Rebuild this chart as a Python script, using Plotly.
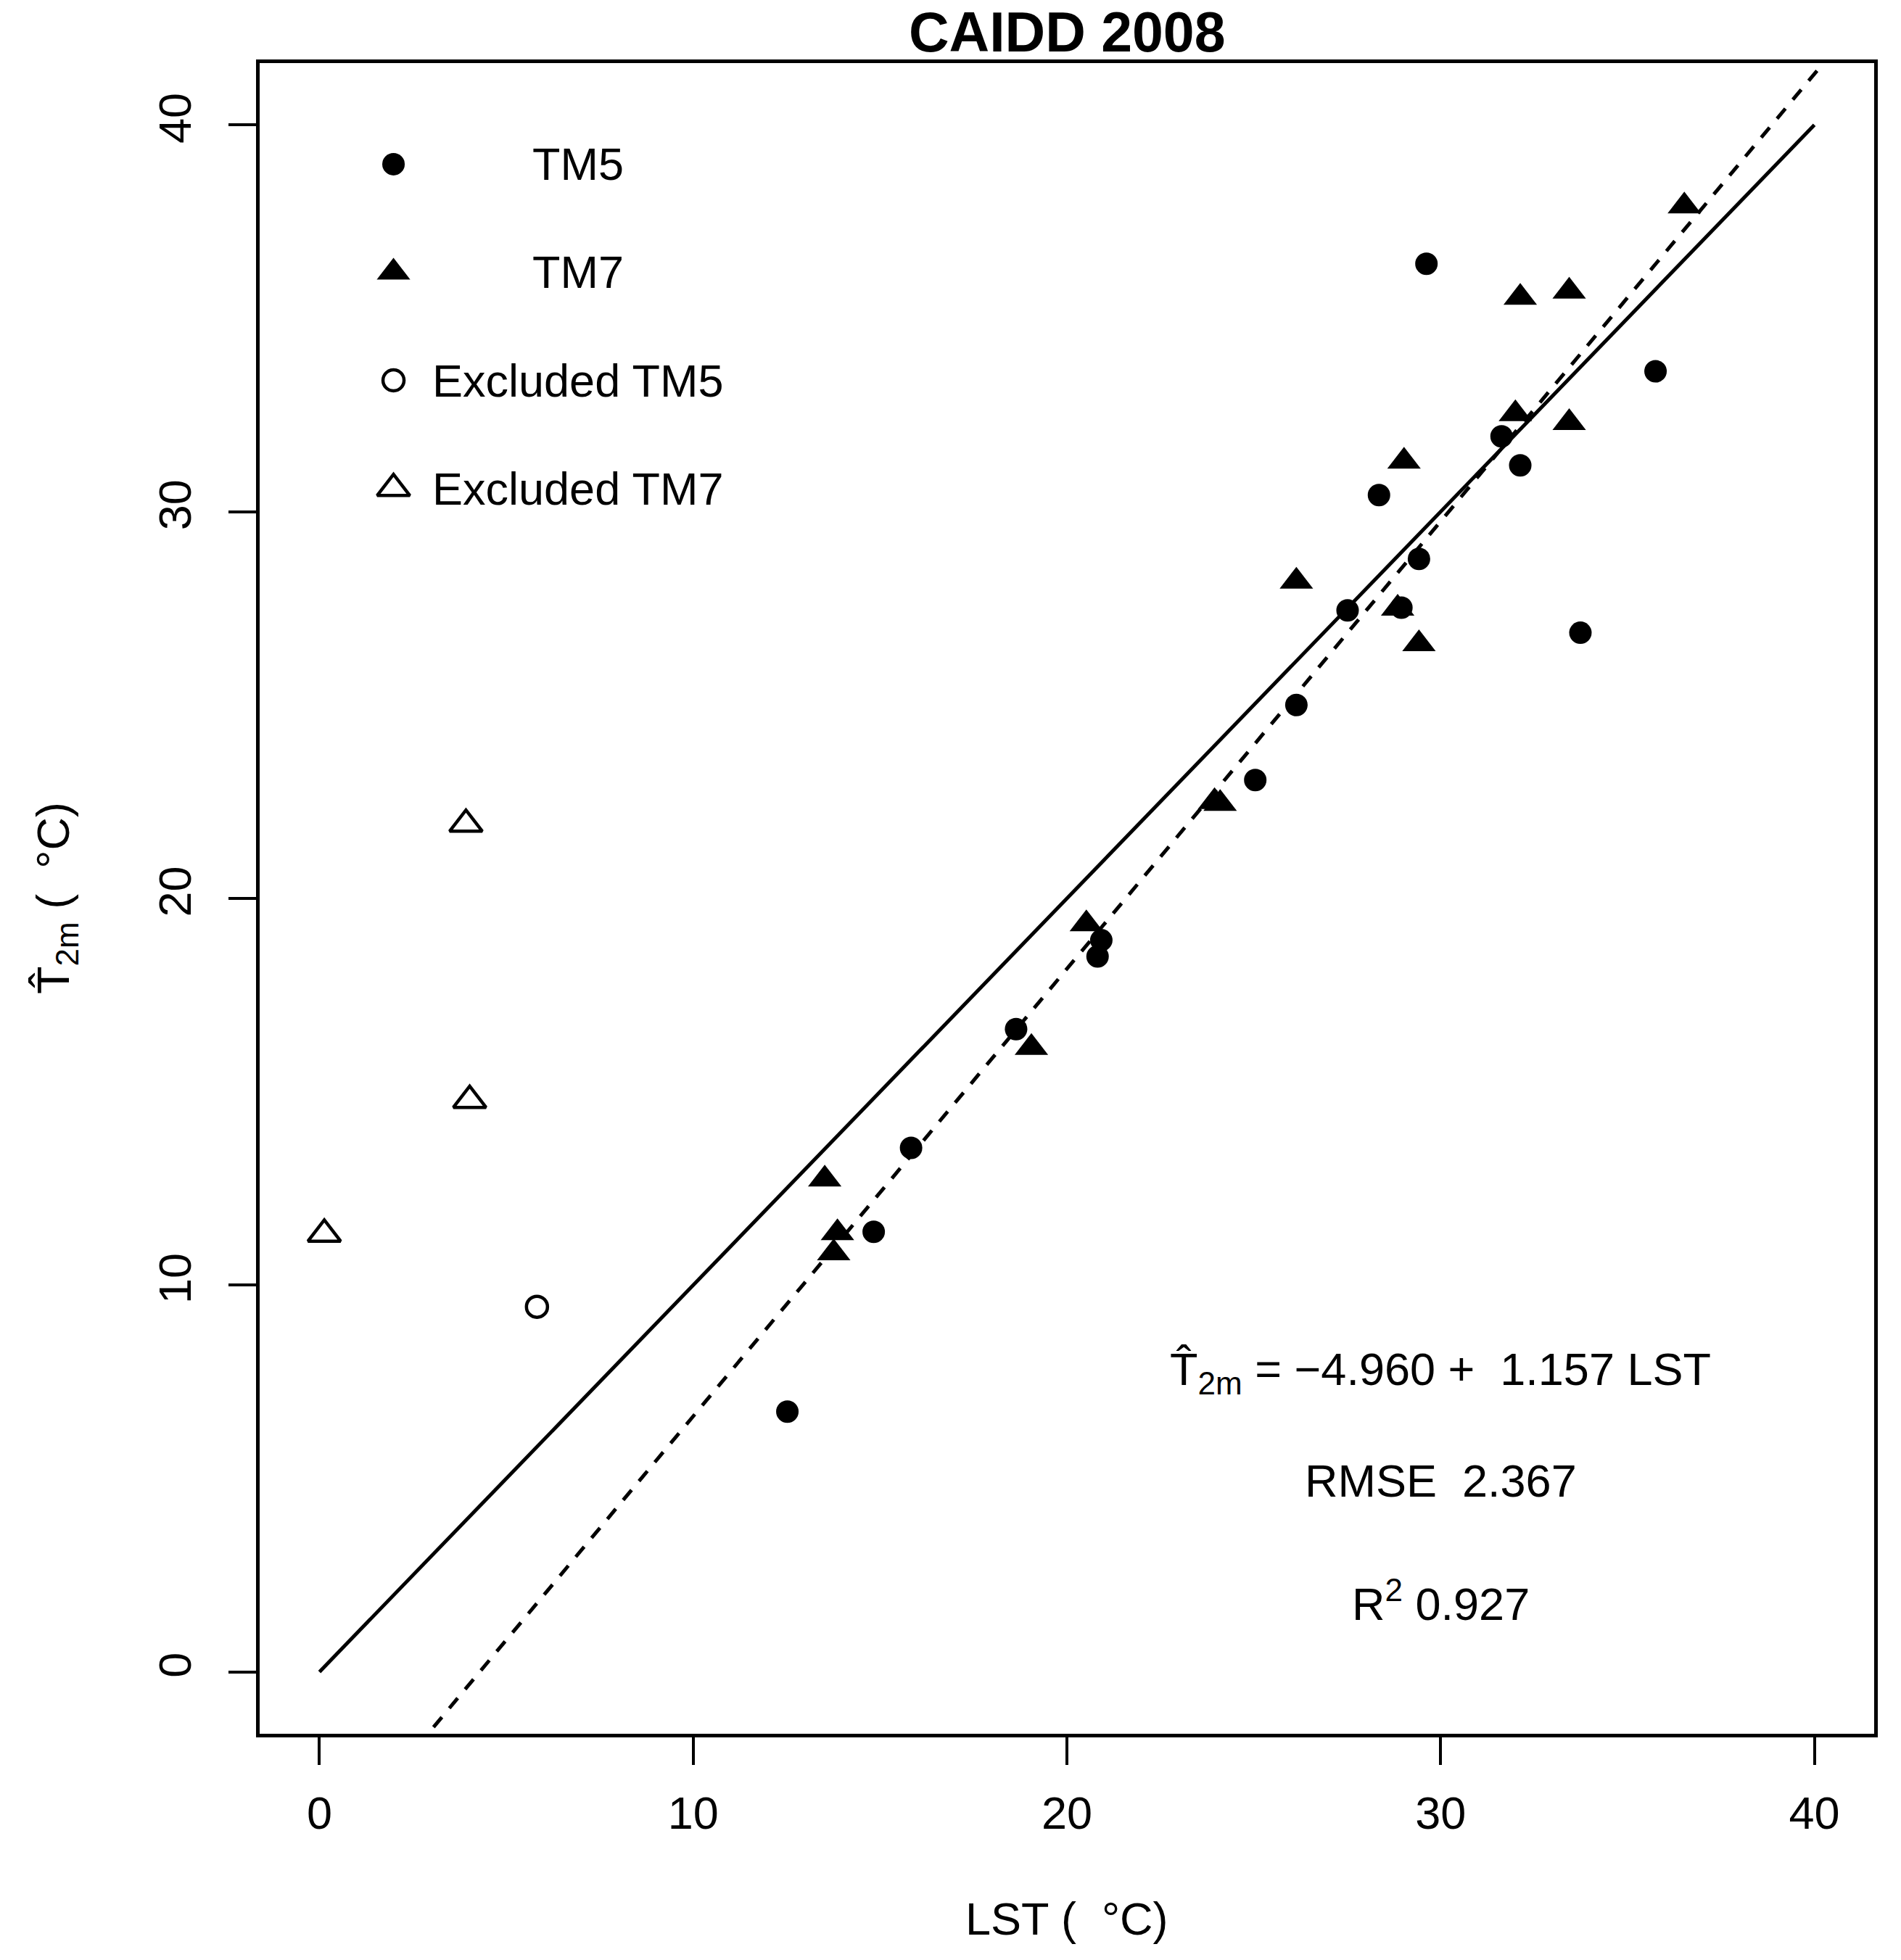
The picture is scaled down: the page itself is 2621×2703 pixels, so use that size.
import plotly.graph_objects as go

# ---------------- data ----------------
tm5_lst = [12.52, 14.83, 15.83, 18.64, 20.82, 20.92, 25.04, 26.14, 27.51, 28.35,
           28.95, 29.42, 29.62, 31.63, 32.13, 33.74, 35.75]
tm5_t2m = [6.73, 11.38, 13.55, 16.62, 18.50, 18.92, 23.06, 25.00, 27.45, 30.43,
           27.52, 28.78, 36.41, 31.95, 31.20, 26.87, 33.63]

tm7_lst = [13.52, 13.86, 13.76, 19.05, 20.52, 23.95, 24.10, 26.14, 28.85, 29.02,
           29.42, 32.00, 32.13, 33.44, 33.44, 36.52]
tm7_t2m = [12.74, 11.35, 10.83, 16.14, 19.34, 22.50, 22.45, 28.20, 27.50, 31.30,
           26.58, 32.53, 35.54, 35.70, 32.30, 37.90]

excl_tm5_lst = [5.82]
excl_tm5_t2m = [9.44]

excl_tm7_lst = [0.13, 3.92, 4.02]
excl_tm7_t2m = [11.32, 21.92, 14.78]

one_to_one = [0, 40]
intercept = -4.960
slope = 1.157
rmse = 2.367
r2 = 0.927

x_ticks = [0, 10, 20, 30, 40]
y_ticks = [0, 10, 20, 30, 40]
axis_range = [-1.6, 41.6]

legend_labels = ["TM5", "TM7", "Excluded TM5", "Excluded TM7"]
legend_symbols = ["circle", "triangle-up", "circle-open", "triangle-up-open"]

# ---------------- styling ----------------
FONT = "Liberation Sans, Arial, Helvetica, sans-serif"
FS = 63
BLACK = "black"
W, H = 2621, 2703
ML, MR, MT, MB = 358, 37, 87, 312

sizes = {"circle": 31, "triangle-up": 40, "circle-open": 29, "triangle-up-open": 39}
LW = 5

fig = go.Figure()

# reference lines
fig.add_trace(go.Scatter(x=one_to_one, y=one_to_one, mode="lines",
                         line=dict(color=BLACK, width=LW), showlegend=False,
                         hoverinfo="skip"))
reg_x = axis_range
reg_y = [intercept + slope * v for v in reg_x]
fig.add_trace(go.Scatter(x=reg_x, y=reg_y, mode="lines",
                         line=dict(color=BLACK, width=LW, dash="18px,16px"),
                         showlegend=False, hoverinfo="skip"))


def marker(sym):
    return dict(symbol=sym, size=sizes[sym], color=BLACK,
                line=dict(color=BLACK, width=4.5 if "open" in sym else 0))


def pts(xs, ys, sym):
    fig.add_trace(go.Scatter(x=xs, y=ys, mode="markers", showlegend=False,
                             marker=marker(sym)))


pts(tm5_lst, tm5_t2m, "circle")
pts(tm7_lst, tm7_t2m, "triangle-up")
pts(excl_tm5_lst, excl_tm5_t2m, "circle-open")
pts(excl_tm7_lst, excl_tm7_t2m, "triangle-up-open")

# manual legend on an overlay axis spanning the plot area (0..1)
leg_sym_x = 0.0829
leg_txt_x = 0.1972
leg_top = 0.9395
leg_step = 0.0647
for i, (lab, sym) in enumerate(zip(legend_labels, legend_symbols)):
    yy = leg_top - i * leg_step
    fig.add_trace(go.Scatter(x=[leg_sym_x], y=[yy], xaxis="x2", yaxis="y2",
                             mode="markers", showlegend=False, hoverinfo="skip",
                             marker=marker(sym)))
    fig.add_annotation(x=leg_txt_x, y=yy, xref="x2", yref="y2", text=lab,
                       showarrow=False, xanchor="center", yanchor="middle",
                       font=dict(family=FONT, size=FS, color=BLACK))

# statistics text
stat_x = 30
fig.add_annotation(x=stat_x, y=7.75, xref="x", yref="y",
                   text="T\u0302<sub>2m</sub> = \u2212%.3f +  %.3f LST" % (abs(intercept), slope),
                   showarrow=False, xanchor="center", yanchor="middle",
                   font=dict(family=FONT, size=FS, color=BLACK))
fig.add_annotation(x=stat_x, y=4.95, xref="x", yref="y",
                   text="RMSE  %.3f" % rmse,
                   showarrow=False, xanchor="center", yanchor="middle",
                   font=dict(family=FONT, size=FS, color=BLACK))
fig.add_annotation(x=stat_x, y=1.85, xref="x", yref="y",
                   text="R<sup>2</sup> %.3f" % r2,
                   showarrow=False, xanchor="center", yanchor="middle",
                   font=dict(family=FONT, size=FS, color=BLACK))

# title and axis titles
plot_h = H - MT - MB
plot_w = W - ML - MR
fig.add_annotation(x=0.5, y=1 + (MT - 44.5) / plot_h, xref="paper", yref="paper",
                   text="<b>CAIDD 2008</b>", showarrow=False,
                   xanchor="center", yanchor="middle",
                   font=dict(family=FONT, size=77, color=BLACK))
fig.add_annotation(x=0.5, y=-(2646 - (H - MB)) / plot_h, xref="paper", yref="paper",
                   text="LST (\u00a0 \u00b0C)", showarrow=False,
                   xanchor="center", yanchor="middle",
                   font=dict(family=FONT, size=FS, color=BLACK))
fig.add_annotation(x=-(ML - 77) / plot_w, y=0.5, xref="paper", yref="paper",
                   text="T\u0302<sub>2m</sub> (\u00a0 \u00b0C)", showarrow=False,
                   textangle=-90, xanchor="center", yanchor="middle",
                   font=dict(family=FONT, size=FS, color=BLACK))

axis_common = dict(range=axis_range, showgrid=False, zeroline=False,
                   showline=True, linecolor=BLACK, linewidth=5, mirror=True,
                   ticks="outside", ticklen=38, tickwidth=4, tickcolor=BLACK,
                   tickfont=dict(family=FONT, size=FS, color=BLACK))

fig.update_layout(
    width=W, height=H,
    margin=dict(l=ML, r=MR, t=MT, b=MB),
    paper_bgcolor="white", plot_bgcolor="white",
    showlegend=False,
    xaxis=dict(tickvals=x_ticks, ticklabelstandoff=12, **axis_common),
    yaxis=dict(tickvals=y_ticks, tickangle=-90, ticklabelstandoff=27, **axis_common),
    xaxis2=dict(overlaying="x", range=[0, 1], visible=False, fixedrange=True),
    yaxis2=dict(overlaying="y", range=[0, 1], visible=False, fixedrange=True),
)

fig.write_html("out.html",
               config={"displayModeBar": False},
               post_script="document.body.style.margin='0px';"
                           "document.body.style.overflow='hidden';")
